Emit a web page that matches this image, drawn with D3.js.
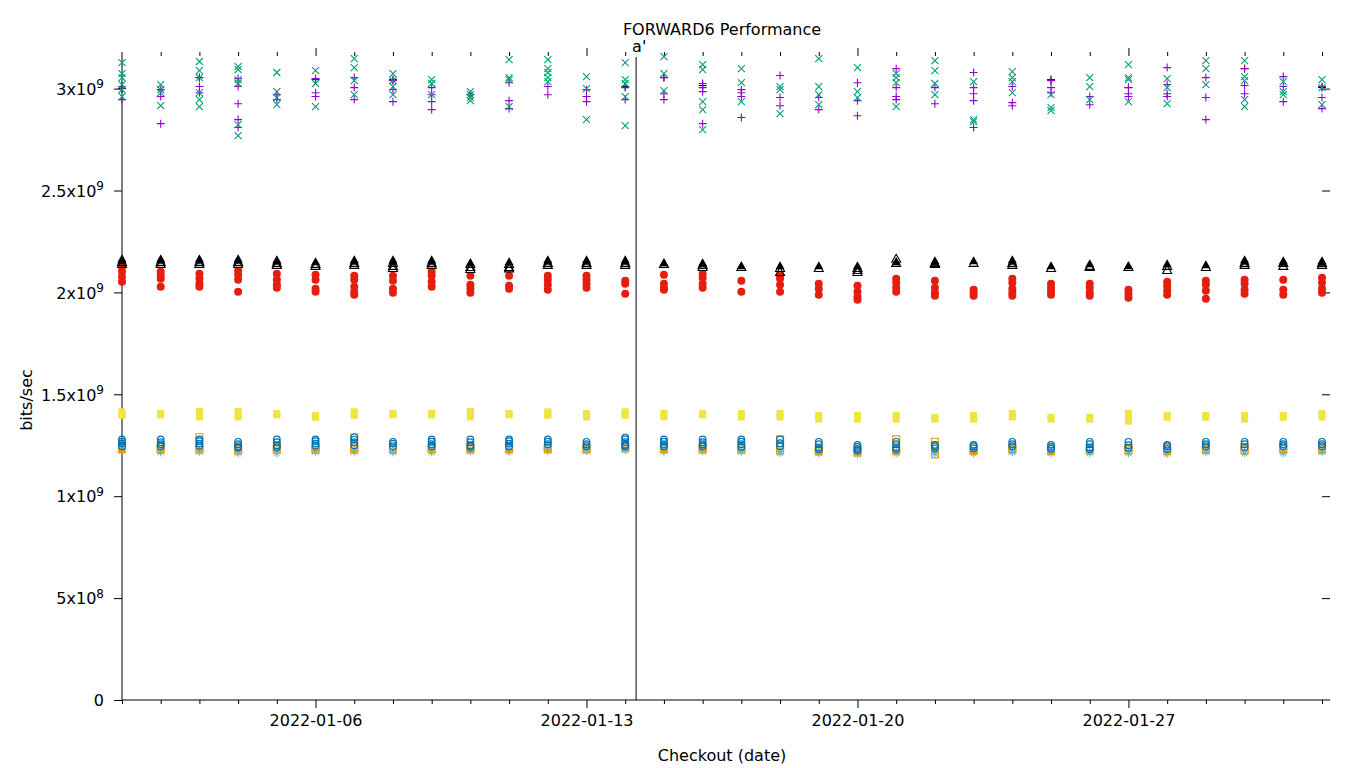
<!DOCTYPE html>
<html>
<head>
<meta charset="utf-8">
<script src="https://cdn.jsdelivr.net/npm/d3@7/dist/d3.min.js"></script>
<style>
  html, body { margin: 0; padding: 0; background: #fff; }
  text { font-family: "DejaVu Sans", sans-serif; fill: #000; }
</style>
</head>
<body>
<svg id="chart" width="1360" height="768"></svg>
<script>
// ---------- DATA (values in units of 1e9 bits/sec) ----------
const dates = ["2022-01-01","2022-01-02","2022-01-03","2022-01-04","2022-01-05","2022-01-06","2022-01-07","2022-01-08",
  "2022-01-09","2022-01-10","2022-01-11","2022-01-12","2022-01-13","2022-01-14","2022-01-15","2022-01-16",
  "2022-01-17","2022-01-18","2022-01-19","2022-01-20","2022-01-21","2022-01-22","2022-01-23","2022-01-24",
  "2022-01-25","2022-01-26","2022-01-27","2022-01-28","2022-01-29","2022-01-30","2022-01-31","2022-02-01"];

const xTickLabels = ["2022-01-06", "2022-01-13", "2022-01-20", "2022-01-27"];
const yTickValues = [0, 0.5, 1, 1.5, 2, 2.5, 3];
const yTickMantissa = ["0", "5x10", "1x10", "1.5x10", "2x10", "2.5x10", "3x10"];
const yTickExponent = ["", "8", "9", "9", "9", "9", "9"];
const markerDate = "2022-01-14T06:45:00";
const markerLabel = "a'";

const blackPlus = [[3.0],[],[3.054],[],[],[3.044],[],[3.044],[],[],[],[],[],[3.01],
  [3.054],[3.015],[],[],[],[],[],[],[],[],[3.044],[],[3.005],[],[],[3.098],[],[3.005]];

const purplePlus = [[3.01,2.946],[2.995,2.961,2.828],[3.054,3.01,2.98],[3.049,3.01,2.926,2.848,2.809],[2.97,2.946],
  [3.049,2.98,2.961],[3.054,3.005,2.946],[3.039,2.995,2.936],[3.005,2.97,2.936,2.897],[2.97],[3.029,2.941,2.902],
  [3.01,2.97],[2.995,2.961,2.936],[3.005,2.946],[3.054,2.975,2.946],[3.025,3.005,2.985,2.828],[2.995,2.98,2.961,2.858],
  [3.064,2.956,2.916],[2.956,2.897],[3.029,2.941,2.867],[3.098,3.005,2.961,2.946],[3.005,2.926],
  [3.079,3.005,2.975,2.941,2.809],[3.01,2.931,2.916],[3.039,3.005,2.98],[2.961,2.921],[3.005,2.975,2.961],
  [3.103,3.02,2.975,2.961],[3.054,2.956,2.848],[3.098,3.015,2.975],[3.059,3.01,2.936],[3.01,2.956,2.902]];

const greenCross = [[3.128,3.074,3.054,3.02,2.995,2.961],[3.02,2.995,2.98,2.916],[3.133,3.088,3.054,2.98,2.946,2.912],
  [3.108,3.093,3.044,3.025,2.823,2.769],[3.079,2.985,2.956,2.921],[3.088,3.025,2.912],[3.147,3.103,3.039,2.97],
  [3.074,3.039,3.01,2.97],[3.044,3.025,2.97],[2.985,2.97,2.956,2.941],[3.142,3.054,3.044,2.912],
  [3.142,3.098,3.079,3.054,3.034],[3.059,3.0,2.848],[3.128,3.044,3.025,2.961,2.818],[3.157,3.074,2.99],
  [3.118,3.093,2.936,2.897,2.799],[3.098,3.029,2.936],[3.01,2.995,2.877],[3.147,3.01,2.97,2.921],[3.103,2.985,2.956],
  [3.074,3.054,3.029,2.912],[3.137,3.088,3.025,2.97],[3.034,2.848,2.838],[3.083,3.054,3.034,2.98],[2.97,2.907,2.892],
  [3.054,3.01,2.946],[3.118,3.054,3.044,2.936],[3.049,3.005,2.926],[3.137,3.098,3.02],[3.137,3.059,3.039,2.946,2.912],
  [3.034,2.985,2.97],[3.044,3.005,2.921]];

const lightBlueStar = [[1.228,1.22],[1.222,1.215],[1.225,1.218],[1.218,1.21],[1.222,1.21],[1.225,1.218],[1.225,1.218],
  [1.222,1.215],[1.222,1.215],[1.225,1.22],[1.225,1.218],[1.228,1.222],[1.228,1.222],[1.232,1.225],[1.225,1.218],
  [1.228,1.22],[1.225,1.218],[1.22,1.212],[1.218,1.21],[1.215,1.205],[1.218,1.21],[1.215,1.208],[1.218,1.21],
  [1.222,1.215],[1.218,1.21],[1.218,1.21],[1.218,1.21],[1.215,1.208],[1.222,1.215],[1.218,1.21],[1.218,1.21],[1.222,1.215]];

const orangeSquare = [[1.242,1.232],[1.24,1.23],[1.289,1.24,1.228],[1.235,1.225],[1.24,1.23],[1.24,1.228],[1.289,1.24,1.23],
  [1.235,1.228],[1.24,1.232],[1.24,1.23],[1.24,1.232],[1.24,1.232],[1.235,1.23],[1.245,1.235],[1.24,1.232],[1.24,1.23],
  [1.238,1.228],[1.279,1.25,1.225],[1.23,1.22],[1.225,1.215],[1.279,1.235,1.222],[1.267,1.25,1.205],[1.232,1.222],
  [1.238,1.228],[1.235,1.222],[1.238,1.225],[1.235,1.225],[1.235,1.222],[1.238,1.228],[1.238,1.225],[1.245,1.232],[1.24,1.228]];

const yellowSquare = [[1.414,1.404,1.397],[1.406,1.399],[1.416,1.404,1.389],[1.416,1.404,1.389],[1.406,1.399],[1.397,1.387],
  [1.414,1.404,1.397],[1.406,1.399],[1.406,1.399],[1.416,1.404,1.389],[1.406,1.399],[1.414,1.404,1.397],[1.406,1.389],
  [1.414,1.404,1.397],[1.406,1.389],[1.406,1.399],[1.406,1.389],[1.406,1.389],[1.397,1.378],[1.397,1.378],[1.397,1.378],
  [1.387,1.378],[1.397,1.378],[1.406,1.389],[1.387,1.378],[1.387,1.378],[1.406,1.39,1.368],[1.397,1.387],[1.397,1.387],
  [1.397,1.378],[1.397,1.387],[1.406,1.389]];

const blueCircle = [[1.279,1.268,1.258,1.245],[1.279,1.265,1.255,1.245],[1.279,1.27,1.258,1.248],[1.267,1.255,1.245,1.238],
  [1.279,1.265,1.25,1.24],[1.279,1.27,1.258,1.248],[1.289,1.278,1.265,1.25],[1.267,1.258,1.245],[1.279,1.268,1.255,1.245],
  [1.279,1.265,1.25,1.242],[1.279,1.27,1.258,1.245],[1.279,1.268,1.255],[1.267,1.255,1.245],[1.289,1.28,1.265,1.252,1.245],
  [1.279,1.268,1.255,1.245],[1.279,1.265,1.255,1.245],[1.279,1.268,1.255,1.242],[1.279,1.26,1.245],[1.267,1.255,1.24,1.23],
  [1.252,1.242,1.232,1.225],[1.267,1.255,1.24,1.23],[1.252,1.245,1.235],[1.252,1.245,1.235],[1.267,1.255,1.245],
  [1.252,1.242,1.232],[1.267,1.255,1.24,1.23],[1.267,1.25,1.238],[1.252,1.245,1.232],[1.267,1.255,1.245],
  [1.267,1.255,1.242],[1.267,1.255,1.245],[1.267,1.255,1.245]];

const redCircle = [[2.126,2.101,2.077,2.052],[2.101,2.082,2.067,2.028],[2.092,2.067,2.043,2.028],[2.106,2.087,2.062,2.003],
  [2.092,2.062,2.038,2.023],[2.087,2.062,2.018,2.003],[2.082,2.062,2.028,2.003,1.988],[2.082,2.057,2.018,1.998],
  [2.101,2.082,2.052,2.028],[2.082,2.038,2.018,1.998],[2.082,2.033,2.018],[2.082,2.062,2.038,2.013],[2.082,2.062,2.043,2.023],
  [2.057,2.043,1.993],[2.087,2.043,2.023,2.013],[2.092,2.072,2.043,2.023],[2.057,2.003],[2.082,2.067,2.038,2.003],
  [2.043,2.018,1.988],[2.033,2.003,1.979,1.964],[2.067,2.047,2.023,2.003],[2.057,2.023,1.998,1.984],[2.013,1.998,1.984],
  [2.067,2.047,2.018,1.998,1.984],[2.043,2.023,2.003,1.988],[2.043,2.023,1.998,1.984],[2.013,1.993,1.974],
  [2.052,2.033,2.008,1.988],[2.057,2.038,2.008,1.969],[2.062,2.043,2.013,1.993],[2.062,2.013,1.988],[2.072,2.047,2.018,1.998]];

const blackOpenTri = [[2.15,2.14],[2.15,2.14],[2.15,2.14],[2.15,2.14],[2.145,2.135],[2.14,2.13],[2.145,2.135],[2.145,2.13,2.12],
  [2.145,2.135],[2.14,2.125,2.115],[2.14,2.125,2.118],[2.145,2.135],[2.145,2.135],[2.145,2.135],[2.14],[2.135,2.125],
  [2.125],[2.12,2.1],[2.12],[2.12,2.11,2.1],[2.165,2.145],[2.145,2.14],[2.145],[2.145,2.135],[2.12],[2.13,2.125],[2.125],
  [2.13,2.11],[2.125],[2.145,2.135],[2.145,2.13],[2.145,2.135]];

const blackFilledTri = [[2.165,2.158],[2.165,2.158],[2.165,2.158],[2.165,2.158],[2.16,2.153],[2.151],[2.16,2.153],[2.16,2.153],
  [2.16,2.153],[2.146],[2.151],[2.16,2.153],[2.16,2.153],[2.16,2.153],[2.146],[2.146,2.14],[2.131],[2.131],[2.131],[2.131],
  [2.151],[2.155,2.148],[2.155],[2.16,2.153],[2.131],[2.141],[2.131],[2.141],[2.136],[2.16,2.153],[2.155,2.148],[2.155,2.148]];

// ---------- LAYOUT ----------
const svg = d3.select("#chart");
const parse = d3.timeParse("%Y-%m-%d");
const dateObjs = dates.map(parse);
const fmt = d3.timeFormat("%Y-%m-%d");

const mLeft = 122, mRight = 1322, mTop = 56, mBottom = 700;
const x = d3.scaleTime().domain([dateObjs[0], dateObjs[dateObjs.length - 1]]).range([mLeft, mRight]);
const y = d3.scaleLinear().domain([0, 3.16]).range([mBottom, mTop]);

// ---------- AXES ----------
const majorSet = new Set(xTickLabels);

// bottom
const gB = svg.append("g").attr("transform", `translate(0,${mBottom})`)
  .call(d3.axisBottom(x).tickValues(dateObjs).tickSize(4).tickPadding(4)
    .tickFormat(d => majorSet.has(fmt(d)) ? fmt(d) : ""));
gB.select(".domain").remove();
gB.selectAll(".tick line").attr("stroke", "#000").attr("y2", d => majorSet.has(fmt(d)) ? 8 : 4);
gB.selectAll(".tick text").attr("font-size", 16).attr("font-family", "DejaVu Sans").attr("dy", "1.15em").attr("fill", "#000");

// top mirror ticks
const gT = svg.append("g").attr("transform", `translate(0,${mTop})`)
  .call(d3.axisTop(x).tickValues(dateObjs.slice(1)).tickSize(4).tickFormat(""));
gT.select(".domain").remove();
gT.selectAll(".tick line").attr("stroke", "#000").attr("y2", d => majorSet.has(fmt(d)) ? -8 : -4);

// left
const gL = svg.append("g").attr("transform", `translate(${mLeft},0)`)
  .call(d3.axisLeft(y).tickValues(yTickValues).tickSize(8).tickPadding(10).tickFormat(""));
gL.select(".domain").remove();
gL.selectAll(".tick line").attr("stroke", "#000");
gL.selectAll(".tick text").each(function(d, i) {
  const t = d3.select(this).attr("font-size", 16).attr("font-family", "DejaVu Sans").attr("fill", "#000")
    .attr("dy", "0.36em").text(null);
  t.append("tspan").text(yTickMantissa[i]);
  if (yTickExponent[i]) t.append("tspan").attr("font-size", 12).attr("dy", "-0.55em").text(yTickExponent[i]);
});

// right mirror ticks
const gR = svg.append("g").attr("transform", `translate(${mRight},0)`)
  .call(d3.axisRight(y).tickValues(yTickValues.slice(1)).tickSize(8).tickFormat(""));
gR.select(".domain").remove();
gR.selectAll(".tick line").attr("stroke", "#000");

// axis lines
svg.append("line").attr("x1", mLeft).attr("x2", mLeft).attr("y1", mTop - 4).attr("y2", mBottom)
  .attr("stroke", "#000").attr("stroke-width", 1);
svg.append("line").attr("x1", mLeft).attr("x2", mRight + 8).attr("y1", mBottom).attr("y2", mBottom)
  .attr("stroke", "#000").attr("stroke-width", 1);

// marker line
const mx = x(d3.timeParse("%Y-%m-%dT%H:%M:%S")(markerDate));
svg.append("line").attr("x1", mx).attr("x2", mx).attr("y1", mTop + 1).attr("y2", mBottom)
  .attr("stroke", "#000").attr("stroke-width", 1);
svg.append("text").attr("x", mx - 4).attr("y", mTop - 4).attr("font-size", 16).text(markerLabel);

// titles
svg.append("text").attr("x", (mLeft + mRight) / 2).attr("y", 35).attr("text-anchor", "middle")
  .attr("font-size", 16).text("FORWARD6 Performance");
svg.append("text").attr("x", (mLeft + mRight) / 2).attr("y", 761).attr("text-anchor", "middle")
  .attr("font-size", 16).text("Checkout (date)");
svg.append("text").attr("transform", `translate(32,${(mTop + mBottom) / 2 + 22}) rotate(-90)`)
  .attr("text-anchor", "middle").attr("font-size", 16).text("bits/sec");

// ---------- POINTS ----------
const shapes = {
  plus: "M-4,0H4M0,-4V4",
  cross: "M-3.5,-3.5L3.5,3.5M-3.5,3.5L3.5,-3.5",
  star: "M-4,0H4M0,-4V4M-3,-3L3,3M-3,3L3,-3",
  square: "M-3.5,-3.5H3.5V3.5H-3.5Z",
  tri: "M0,-4.5L4.5,3.5H-4.5Z"
};

function flatten(series) {
  const out = [];
  series.forEach((vals, i) => vals.forEach(v => out.push({ date: dateObjs[i], v })));
  return out;
}

function drawPath(series, d, stroke, fill, sw) {
  svg.append("g").selectAll("path").data(flatten(series)).join("path")
    .attr("transform", p => `translate(${x(p.date)},${y(p.v)})`)
    .attr("d", d).attr("stroke", stroke).attr("fill", fill).attr("stroke-width", sw);
}
function drawCircle(series, r, stroke, fill, sw) {
  svg.append("g").selectAll("circle").data(flatten(series)).join("circle")
    .attr("cx", p => x(p.date)).attr("cy", p => y(p.v)).attr("r", r)
    .attr("stroke", stroke).attr("fill", fill).attr("stroke-width", sw);
}

drawPath(blackPlus, shapes.plus, "#000", "none", 1);
drawPath(purplePlus, shapes.plus, "#9400d3", "none", 1.1);
drawPath(greenCross, shapes.cross, "#009e73", "none", 1.1);
drawPath(lightBlueStar, shapes.star, "#56b4e9", "none", 1);
drawPath(orangeSquare, shapes.square, "#e69f00", "none", 1.1);
drawPath(yellowSquare, "M-3.5,-3.5H3.5V3.5H-3.5Z", "none", "#f0e442", 0);
drawCircle(blueCircle, 3.3, "#0072b2", "none", 1.2);
drawCircle(redCircle, 4, "none", "#e51e10", 0);
drawPath(blackOpenTri, shapes.tri, "#000", "none", 1.1);
drawPath(blackFilledTri, shapes.tri, "none", "#000", 0);
</script>
</body>
</html>
